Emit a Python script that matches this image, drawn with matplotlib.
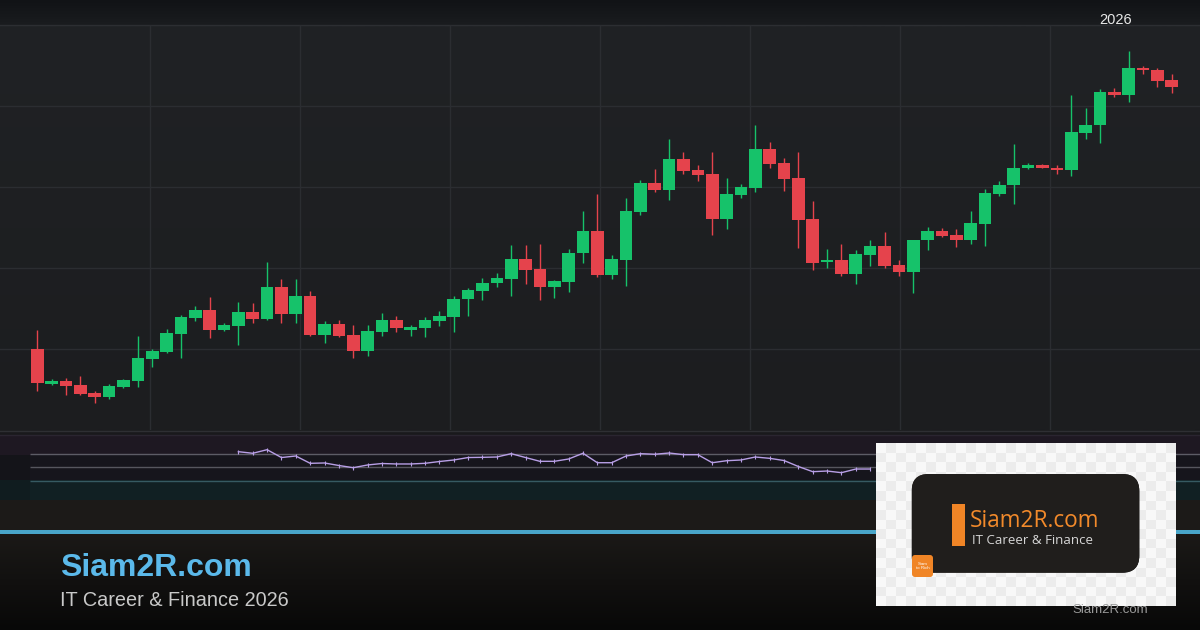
import numpy as np
import matplotlib.pyplot as plt
from matplotlib.patches import Rectangle, FancyBboxPatch
from matplotlib.colors import to_rgb

# daily OHLC (80 candles, price units arbitrary)
opens = [110.0, 105.7, 106.0, 105.6, 104.6, 104.1, 105.3, 106.0, 108.8, 109.6,
         111.9, 113.8, 114.8, 112.3, 112.8, 114.6, 113.7, 117.7, 114.3, 116.5,
         111.7, 113.1, 111.7, 109.8, 112.1, 113.6, 112.3, 112.6, 113.5, 114.0,
         116.2, 117.2, 118.2, 118.7, 121.1, 119.9, 117.6, 118.3, 121.8, 124.6,
         119.1, 121.0, 126.9, 130.5, 129.6, 133.5, 132.1, 131.6, 126.0, 129.0,
         129.9, 134.7, 133.0, 131.1, 126.0, 120.7, 121.0, 119.3, 121.6, 122.7,
         120.4, 119.5, 123.4, 124.6, 124.1, 123.5, 125.4, 129.1, 130.2, 132.3,
         132.7, 132.4, 132.1, 136.7, 137.7, 141.7, 141.4, 144.7, 144.5, 143.2]
highs = [112.3, 106.3, 106.4, 106.7, 104.8, 105.7, 106.3, 111.6, 110.0, 112.5,
         114.2, 115.3, 116.4, 113.2, 115.8, 115.7, 120.7, 118.6, 118.7, 117.1,
         113.4, 113.6, 113.0, 113.0, 114.5, 114.1, 113.0, 114.0, 114.7, 116.5,
         117.5, 118.8, 119.4, 122.8, 122.8, 123.0, 118.5, 122.3, 127.0, 129.1,
         121.6, 128.6, 130.9, 132.2, 135.9, 134.3, 132.7, 134.3, 131.1, 130.4,
         137.7, 135.6, 133.6, 134.3, 128.3, 122.3, 123.0, 122.2, 123.5, 124.4,
         121.0, 123.5, 125.1, 124.9, 124.8, 127.0, 129.8, 130.7, 135.3, 133.0,
         132.9, 132.7, 141.4, 139.7, 142.1, 142.2, 146.8, 144.9, 144.7, 144.0]
lows = [104.8, 105.6, 104.3, 104.3, 103.3, 103.8, 105.2, 105.3, 107.8, 109.5,
        108.9, 113.4, 111.4, 112.2, 110.5, 113.2, 113.6, 113.2, 113.2, 111.6,
        110.7, 111.5, 108.9, 109.1, 111.6, 112.1, 111.6, 111.5, 112.9, 112.1,
        114.1, 116.1, 117.7, 116.6, 118.0, 116.0, 116.3, 117.0, 120.6, 118.9,
        118.7, 117.8, 126.6, 129.4, 128.4, 131.6, 130.8, 124.1, 124.8, 128.7,
        129.4, 132.4, 129.5, 122.5, 119.8, 120.0, 119.0, 118.0, 120.3, 120.0,
        119.0, 116.9, 122.2, 123.8, 122.6, 123.0, 122.7, 128.9, 127.9, 132.2,
        132.3, 131.6, 131.4, 135.9, 135.4, 141.1, 140.5, 144.0, 142.4, 141.6]
closes = [105.8, 106.0, 105.4, 104.4, 104.1, 105.4, 106.2, 108.9, 109.8, 112.0,
          114.0, 114.8, 112.3, 113.0, 114.6, 113.7, 117.7, 114.3, 116.5, 111.7,
          113.1, 111.6, 109.8, 112.2, 113.6, 112.6, 112.7, 113.6, 114.1, 116.2,
          117.3, 118.2, 118.8, 121.1, 119.8, 117.6, 118.4, 121.9, 124.6, 119.1,
          121.1, 127.0, 130.5, 129.6, 133.5, 132.0, 131.5, 126.0, 129.1, 130.0,
          134.7, 132.8, 131.0, 125.9, 120.6, 121.0, 119.2, 121.7, 122.7, 120.2,
          119.5, 123.5, 124.6, 124.0, 123.5, 125.5, 129.3, 130.2, 132.3, 132.7,
          132.4, 132.1, 136.8, 137.7, 141.7, 141.4, 144.7, 144.4, 143.1, 142.3]

# RSI panel, visible from candle 14 until the logo covers it
rsi_start = 14
rsi = [73.5, 71.1, 76.5, 64.7, 67.0, 56.0, 56.5, 52.7, 49.4, 53.5,
       55.7, 55.0, 55.0, 56.0, 58.7, 61.0, 64.7, 65.0, 65.5, 70.5,
       64.7, 59.0, 59.0, 62.5, 71.1, 56.9, 56.9, 67.0, 70.5, 69.6,
       71.5, 69.0, 69.0, 56.9, 59.9, 61.0, 65.5, 63.5, 60.2, 51.2,
       43.4, 44.4, 41.9, 47.4, 47.4]
rsi_levels = [70, 50, 30]

year_label = "2026"
brand = "Siam2R.com"
tagline = "IT Career & Finance 2026"
logo_tagline = "IT Career & Finance"
logo_badge = "Siam\nto Rich"

W, H = 1200, 630
fig = plt.figure(figsize=(12, 6.3), dpi=100)


def fig_rect(x0, y0, x1, y1):
    return [x0 / W, 1 - y1 / H, (x1 - x0) / W, (y1 - y0) / H]


def vgrad(ax, x0, x1, y0, y1, c_top, c_bot, horizontal=False, **kw):
    t = np.linspace(0, 1, 128)
    a, b = np.array(to_rgb(c_top)), np.array(to_rgb(c_bot))
    img = a + (b - a) * t[:, None]
    img = img[None, :, :] if horizontal else img[:, None, :]
    return ax.imshow(img, extent=(x0, x1, y1, y0), aspect='auto',
                     interpolation='bilinear', **kw)


# background bands
bg = fig.add_axes([0, 0, 1, 1])
vgrad(bg, 0, W, 0, 25, '#111316', '#1a1c1f')
vgrad(bg, 0, W, 25, 431, '#202225', '#1c1d1f')
bg.add_patch(Rectangle((0, 431), W, 4, fc='#19191c', lw=0))
bg.add_patch(Rectangle((0, 435), W, 20, fc='#1e1822', lw=0))
bg.add_patch(Rectangle((0, 455), W, 25, fc='#16151c', lw=0))
bg.add_patch(Rectangle((0, 480), W, 20, fc='#112023', lw=0))
bg.add_patch(Rectangle((0, 455), 30, 25, fc='#141419', lw=0))
bg.add_patch(Rectangle((0, 480), 30, 20, fc='#101c1f', lw=0))
bg.add_patch(Rectangle((0, 500), W, 30, fc='#1c1a18', lw=0))
vgrad(bg, 0, W, 534, H, '#1b1917', '#080808')
bg.add_patch(Rectangle((0, 530), W, 4, fc='#49a6c9', lw=0))
bg.axhline(25, color='#2c2e32', lw=1)
bg.axhline(431, color='#2e2f33', lw=1)
bg.axhline(435, color='#2a2530', lw=1)
bg.set_xlim(0, W)
bg.set_ylim(H, 0)
bg.axis('off')

# candles
ax = fig.add_axes(fig_rect(0, 25, W, 430))
ax.patch.set_alpha(0)
x = np.arange(len(opens))
o, h, l, c = map(np.array, (opens, highs, lows, closes))
up = c >= o
colors = np.where(up, '#16c26a', '#e5434c')
ax.vlines(x, l, h, colors=colors, lw=1.0, zorder=2)
body = np.maximum(np.abs(c - o), 0.2)
ax.bar(x, body, bottom=np.minimum(o, c), width=0.88, color=colors, lw=0, zorder=3)
ax.set_xlim(-2.6, 80.97)
ax.set_ylim(100, 150)
ax.set_yticks([110, 120, 130, 140])
ax.set_xticks([7.85 + 10.45 * k for k in range(7)])
ax.grid(color='#2b2d31', lw=1)
ax.tick_params(length=0, labelbottom=False, labelleft=False)
for s in ax.spines.values():
    s.set_visible(False)

# RSI
axr = fig.add_axes(fig_rect(0, 435, W, 500))
axr.patch.set_alpha(0)
axr.hlines(rsi_levels, -0.5, 81, colors=['#5d5c66', '#56565e', '#365a62'], lw=1)
axr.plot(np.arange(rsi_start, rsi_start + len(rsi)), rsi, color='#b89fe6', lw=1.0,
         marker='|', ms=3, mew=0.8)
axr.set_xlim(-2.6, 80.97)
axr.set_ylim(0.8, 98.6)
axr.axis('off')

# overlay: labels, banner and logo
fg = fig.add_axes([0, 0, 1, 1])
fg.patch.set_alpha(0)
fg.text(1116, 20, year_label, ha='center', va='center', color='#e8e8e8',
        fontsize=10.5, family='Liberation Sans')
fg.text(60, 568, brand, ha='left', va='center', color='#5bb9ea', fontsize=23,
        fontweight='bold', family='Liberation Sans')
fg.text(60, 600, tagline, ha='left', va='center', color='#c9c9c9', fontsize=14.3,
        family='Liberation Sans')

# logo card with checkered backdrop
nx, ny = 30, 17
checker = (np.add.outer(np.arange(ny), np.arange(nx)) % 2)[..., None]
checker = np.where(checker, to_rgb('#ececec'), to_rgb('#f8f8f8'))
fg.imshow(checker, extent=(876, 1176, 606, 443), aspect='auto', interpolation='nearest')
card = FancyBboxPatch((911.7, 474), 227.6, 98.7, boxstyle='round,pad=0,rounding_size=17',
                      fc='#201e1c', ec='none')
fg.add_patch(card)
im = vgrad(fg, 911.7, 1139.3, 474, 572.7, '#2f2722', '#1a1a1a', horizontal=True)
im.set_clip_path(card)
fg.add_patch(Rectangle((952, 504), 13, 42, fc='#f08526', lw=0))
fg.text(970, 521, brand, ha='left', va='center', color='#f28a2b', fontsize=16.3,
        family='Open Sans')
fg.text(972, 541, logo_tagline, ha='left', va='center', color='#d6d6d6', fontsize=9.5,
        family='Open Sans')
fg.add_patch(FancyBboxPatch((912, 555), 21, 22, boxstyle='round,pad=0,rounding_size=3',
                            fc='#f08526', ec='none'))
fg.text(922.5, 566, logo_badge, ha='center', va='center', color='white', fontsize=3.2,
        linespacing=1.0, family='Liberation Sans')
fg.text(1110, 610, brand, ha='center', va='center', color='#9a9a9a', fontsize=9.5,
        family='Liberation Sans')
fg.set_xlim(0, W)
fg.set_ylim(H, 0)
fg.axis('off')

fig.savefig('out.png', dpi=100)
